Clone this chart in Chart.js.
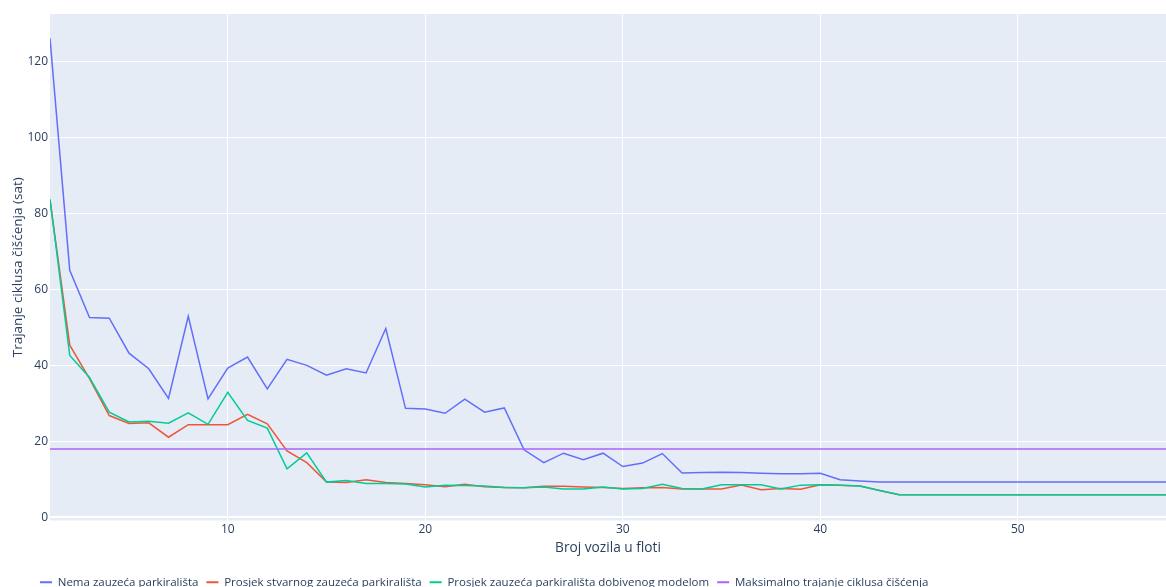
<!DOCTYPE html>
<html>
<head>
<meta charset="utf-8">
<script src="https://cdn.jsdelivr.net/npm/chart.js@4/dist/chart.umd.min.js"></script>
<style>
  html, body { margin: 0; padding: 0; background: #ffffff; }
  #wrap { width: 1166px; height: 587px; position: relative; }
</style>
</head>
<body>
<div id="wrap"><canvas id="chart"></canvas></div>
<script>
// Fleet size (number of vehicles)
const vehicles = [1, 2, 3, 4, 5, 6, 7, 8, 9, 10, 11, 12, 13, 14, 15, 16, 17, 18, 19, 20,
  21, 22, 23, 24, 25, 26, 27, 28, 29, 30, 31, 32, 33, 34, 35, 36, 37, 38, 39, 40,
  41, 42, 43, 44, 45, 46, 47, 48, 49, 50, 51, 52, 53, 54, 55, 56, 57, 58];

// Cleaning cycle duration (hours) with no parking occupancy
const noOccupancy = [126, 65, 52.6, 52.4, 43.2, 39.1, 31.3, 52.9, 31.2, 39.3,
  42.2, 33.8, 41.6, 40.0, 37.4, 39.1, 38.0, 49.7, 28.7, 28.5,
  27.4, 31.1, 27.7, 28.8, 17.8, 14.4, 16.9, 15.2, 16.9, 13.4,
  14.3, 16.8, 11.7, 11.8, 11.9, 11.8, 11.6, 11.5, 11.5, 11.6,
  9.9, 9.6, 9.3, 9.3, 9.3, 9.3, 9.3, 9.3, 9.3, 9.3,
  9.3, 9.3, 9.3, 9.3, 9.3, 9.3, 9.3, 9.3];

// Average of real parking occupancy
const realOccupancy = [83.5, 45.3, 36.5, 26.8, 24.7, 24.9, 21.1, 24.4, 24.4, 24.4,
  27.1, 24.6, 17.5, 14.4, 9.3, 9.2, 9.9, 9.2, 8.9, 8.6,
  8.1, 8.7, 8.1, 7.9, 7.8, 8.2, 8.2, 8.0, 7.9, 7.6,
  7.8, 7.9, 7.5, 7.5, 7.5, 8.5, 7.3, 7.6, 7.4, 8.6,
  8.5, 8.3, 7.1, 6.0, 6.0, 6.0, 6.0, 6.0, 6.0, 6.0,
  6.0, 6.0, 6.0, 6.0, 6.0, 6.0, 6.0, 6.0];

// Average of parking occupancy obtained by the model
const modelOccupancy = [83.7, 42.6, 36.8, 27.7, 25.1, 25.3, 24.8, 27.5, 24.5, 32.9,
  25.5, 23.5, 12.8, 17.0, 9.3, 9.7, 8.9, 8.9, 8.8, 8.0,
  8.5, 8.4, 8.3, 7.9, 7.8, 8.0, 7.5, 7.5, 8.0, 7.5,
  7.6, 8.7, 7.6, 7.5, 8.6, 8.6, 8.6, 7.5, 8.5, 8.6,
  8.5, 8.3, 7.1, 6.0, 6.0, 6.0, 6.0, 6.0, 6.0, 6.0,
  6.0, 6.0, 6.0, 6.0, 6.0, 6.0, 6.0, 6.0];

// Maximum allowed cleaning cycle duration (hours)
const maxCycle = 18;

const xTickValues = [10, 20, 30, 40, 50];
const yTickValues = [0, 20, 40, 60, 80, 100, 120];

const seriesNames = [
  'Nema zauzeća parkirališta',
  'Prosjek stvarnog zauzeća parkirališta',
  'Prosjek zauzeća parkirališta dobivenog modelom',
  'Maksimalno trajanje ciklusa čišćenja'
];

const toPoints = arr => vehicles.map((v, i) => ({ x: v, y: arr[i] }));

const FONT = "'Open Sans', 'DejaVu Sans', sans-serif";
const TEXT = '#2a3f5f';

const plotBackground = {
  id: 'plotBackground',
  beforeDraw(chart) {
    const { ctx, chartArea: a } = chart;
    ctx.save();
    ctx.fillStyle = '#E5ECF6';
    ctx.fillRect(a.left, a.top, a.right - a.left, a.bottom - a.top);
    ctx.restore();
  }
};

const legendPlacement = {
  id: 'legendPlacement',
  afterLayout(chart) {
    const lg = chart.legend;
    if (!lg) return;
    lg.left = 32;
    lg.top += 11;
    lg.bottom += 11;
  }
};

Chart.defaults.font.family = FONT;
Chart.defaults.color = TEXT;

new Chart(document.getElementById('chart'), {
  type: 'line',
  data: {
    datasets: [
      { label: seriesNames[0], data: toPoints(noOccupancy), borderColor: '#636EFA', backgroundColor: '#636EFA', order: 3 },
      { label: seriesNames[1], data: toPoints(realOccupancy), borderColor: '#EF553B', backgroundColor: '#EF553B', order: 2 },
      { label: seriesNames[2], data: toPoints(modelOccupancy), borderColor: '#00CC96', backgroundColor: '#00CC96', order: 1 },
      { label: seriesNames[3], data: vehicles.map(v => ({ x: v, y: maxCycle })), borderColor: '#AB63FA', backgroundColor: '#AB63FA', order: 0 }
    ]
  },
  options: {
    responsive: true,
    maintainAspectRatio: false,
    devicePixelRatio: 1,
    animation: false,
    layout: { padding: { top: 14, left: 0, right: 0, bottom: 0 } },
    elements: {
      line: { borderWidth: 1.5, tension: 0, fill: false },
      point: { radius: 0, hoverRadius: 0 }
    },
    plugins: {
      tooltip: { enabled: false },
      legend: {
        position: 'bottom',
        align: 'start',
        labels: {
          boxWidth: 12,
          boxHeight: 2,
          padding: 8,
          color: TEXT,
          font: { family: FONT, size: 11.5 },
          sort: (a, b) => a.datasetIndex - b.datasetIndex,
          generateLabels(chart) {
            return chart.data.datasets.map((ds, i) => ({
              text: ds.label,
              fillStyle: ds.borderColor,
              strokeStyle: ds.borderColor,
              lineWidth: 0,
              fontColor: TEXT,
              hidden: false,
              datasetIndex: i
            }));
          }
        }
      }
    },
    scales: {
      x: {
        type: 'linear',
        min: 1,
        max: 57.5,
        afterFit(scale) { scale.height = 37; },
        afterBuildTicks(scale) { scale.ticks = xTickValues.map(v => ({ value: v })); },
        grid: { color: '#ffffff', lineWidth: 1, drawTicks: false },
        border: { display: false },
        ticks: { padding: 2, color: TEXT, font: { family: FONT, size: 12 }, maxRotation: 0 },
        title: {
          display: true,
          text: 'Broj vozila u floti',
          color: TEXT,
          font: { family: FONT, size: 13.7 },
          padding: { top: 4, bottom: 1 }
        }
      },
      y: {
        type: 'linear',
        min: -0.8,
        max: 132.4,
        afterFit(scale) { scale.width = 50; },
        afterBuildTicks(scale) { scale.ticks = yTickValues.map(v => ({ value: v })); },
        grid: {
          color: '#ffffff',
          lineWidth: ctx => (ctx.tick && ctx.tick.value === 0 ? 2 : 1),
          drawTicks: false
        },
        border: { display: false },
        ticks: { padding: 2, color: TEXT, font: { family: FONT, size: 12 } },
        title: {
          display: true,
          text: 'Trajanje ciklusa čišćenja (sat)',
          color: TEXT,
          font: { family: FONT, size: 13.5 },
          padding: { top: 10, bottom: 0 }
        }
      }
    }
  },
  plugins: [plotBackground, legendPlacement]
});
</script>
</body>
</html>
